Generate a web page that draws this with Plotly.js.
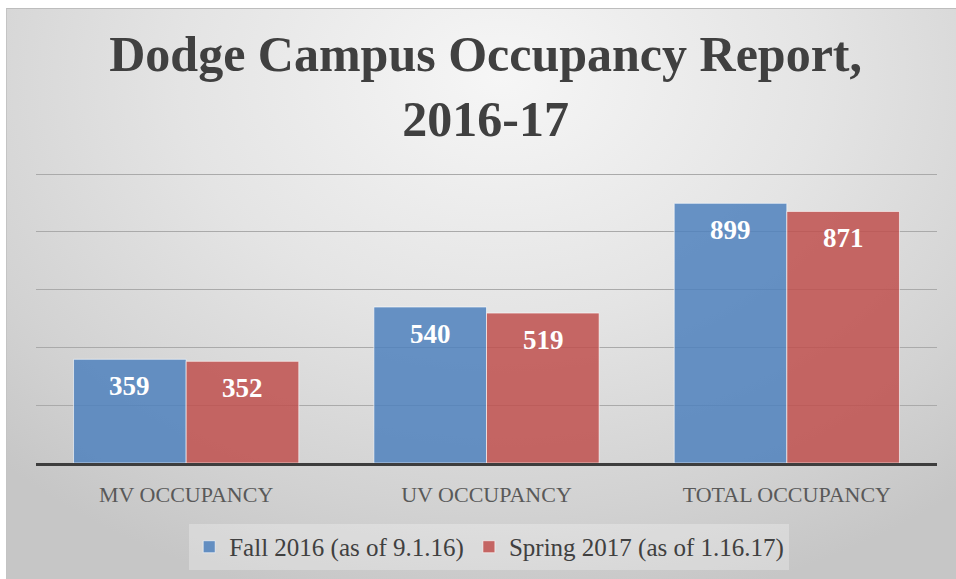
<!DOCTYPE html>
<html>
<head>
<meta charset="utf-8">
<script src="https://cdn.plot.ly/plotly-3.0.1.min.js"></script>
<style>
  html, body { margin: 0; padding: 0; width: 956px; height: 579px; background: #ffffff; overflow: hidden; }
  #bg { position: absolute; left: 6px; top: 8px; width: 950px; height: 571px;
        background: radial-gradient(ellipse 75% 95% at 52% 12%, #f6f6f6 0%, #e4e4e4 45%, #d2d2d2 80%, #c6c6c6 100%);
        border-top: 1px solid #bdbdbd; border-left: 1px solid #c4c4c4; box-sizing: border-box; }
  #chart { position: absolute; left: 0; top: 0; width: 956px; height: 579px; }
</style>
</head>
<body>
<div id="bg"></div>
<div id="chart"></div>
<script>
const categories = ["MV OCCUPANCY", "UV OCCUPANCY", "TOTAL OCCUPANCY"];
const seriesNames = ["Fall 2016 (as of 9.1.16)", "Spring 2017 (as of 1.16.17)"];
const fall2016 = [359, 540, 899];
const spring2017 = [352, 519, 871];
const titleText = "Dodge Campus Occupancy Report,<br>2016-17";

const colors = ["rgba(79,129,189,0.85)", "rgba(192,80,77,0.85)"];
const seriesValues = [fall2016, spring2017];

const traces = seriesValues.map((vals, i) => ({
  type: "bar",
  name: seriesNames[i],
  x: categories,
  y: vals,
  marker: { color: colors[i], line: { color: "rgba(255,255,255,0.6)", width: 1 } },
  hoverinfo: "skip"
}));

const barHalf = 56.5;
const annotations = [];
seriesValues.forEach((vals, i) => {
  vals.forEach((v, j) => {
    annotations.push({
      x: categories[j], y: v, xref: "x", yref: "y",
      text: "<b>" + v + "</b>", showarrow: false,
      xshift: i === 0 ? -barHalf : barHalf, yshift: -27,
      yanchor: "middle", xanchor: "center",
      font: { family: "Liberation Serif, serif", size: 27, color: "#ffffff" }
    });
  });
});

const layout = {
  width: 956, height: 579,
  paper_bgcolor: "rgba(0,0,0,0)", plot_bgcolor: "rgba(0,0,0,0)",
  margin: { l: 36, r: 19, t: 173, b: 116 },
  title: {
    text: "<b>" + titleText + "</b>",
    font: { family: "Liberation Serif, serif", size: 50, color: "#404040" },
    x: 0.508, xanchor: "center", xref: "container",
    y: 0.877, yanchor: "top", yref: "container"
  },
  barmode: "group", bargap: 0.25, bargroupgap: 0,
  xaxis: {
    type: "category",
    showline: true, linecolor: "#3d3d3d", linewidth: 3,
    showgrid: false, ticks: "",
    tickfont: { family: "Liberation Serif, serif", size: 22, color: "#595959" },
    ticklabelstandoff: 10,
    fixedrange: true
  },
  yaxis: {
    range: [0, 1004], dtick: 200, tick0: 0,
    showticklabels: false, ticks: "",
    showgrid: true, gridcolor: "#aaaaaa", gridwidth: 1,
    zeroline: false, showline: false, fixedrange: true
  },
  showlegend: true,
  legend: {
    orientation: "h", xref: "paper", x: 0.503, xanchor: "center",
    yref: "container", y: 0.095, yanchor: "top",
    bgcolor: "rgba(255,255,255,0.28)",
    font: { family: "Liberation Serif, serif", size: 25, color: "#404040" },
    itemclick: false, itemdoubleclick: false,
    traceorder: "normal"
  },
  annotations: annotations
};

Plotly.newPlot("chart", traces, layout, { displayModeBar: false, staticPlot: true });
</script>
</body>
</html>
